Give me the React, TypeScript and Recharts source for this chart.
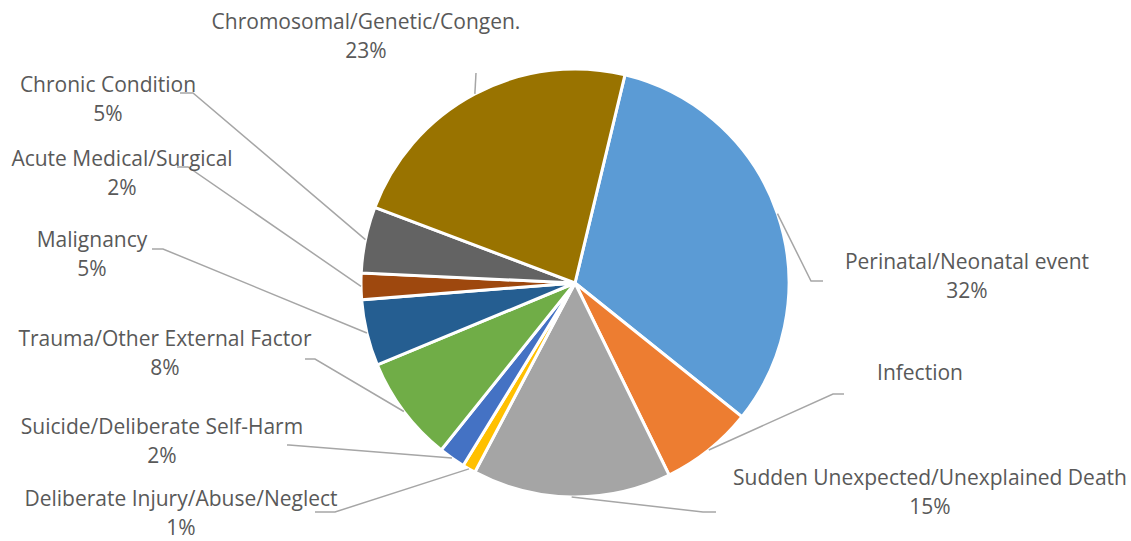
import React from "react";
import { PieChart, Pie, Cell } from "recharts";

const categories = [
  "Perinatal/Neonatal event",
  "Infection",
  "Sudden Unexpected/Unexplained Death",
  "Deliberate Injury/Abuse/Neglect",
  "Suicide/Deliberate Self-Harm",
  "Trauma/Other External Factor",
  "Malignancy",
  "Acute Medical/Surgical",
  "Chronic Condition",
  "Chromosomal/Genetic/Congen.",
];

const shares = [32, 7, 15, 1, 2, 8, 5, 2, 5, 23];

// Infection label in the source shows only the name
const showPercent = [true, false, true, true, true, true, true, true, true, true];

const colors = [
  "#5B9BD5",
  "#ED7D31",
  "#A5A5A5",
  "#FFC000",
  "#4472C4",
  "#70AD47",
  "#255E91",
  "#9E480E",
  "#636363",
  "#997300",
];

// label placement (text centre, elbow and tail end of the leader line)
const labelSpots = [
  { tx: 967, ty: 262, ex: 811, ey: 281, endX: 823 },
  { tx: 920, ty: 373, ex: 833, ey: 394, endX: 844 },
  { tx: 930, ty: 478, ex: 703, ey: 512, endX: 716 },
  { tx: 181, ty: 499, ex: 335, ey: 512, endX: 315 },
  { tx: 162, ty: 427, ex: 289, ey: 445, endX: 287 },
  { tx: 165, ty: 339, ex: 315, ey: 359, endX: 305 },
  { tx: 92, ty: 240, ex: 163, ey: 249, endX: 152 },
  { tx: 122, ty: 159, ex: 188, ey: 167, endX: 177 },
  { tx: 108, ty: 85, ex: 193, ey: 93, endX: 180 },
  { tx: 366, ty: 22, ex: 476, ey: 73, endX: 476 },
];

const data = categories.map((name, i) => ({ name, value: shares[i] }));

const RADIAN = Math.PI / 180;
const FONT = "'Open Sans', sans-serif";

function renderLabel(props: any) {
  const { cx, cy, midAngle, outerRadius, index, percent, name } = props;
  const spot = labelSpots[index];
  const sx = cx + outerRadius * Math.cos(-midAngle * RADIAN);
  const sy = cy + outerRadius * Math.sin(-midAngle * RADIAN);
  return (
    <g key={`lbl-${index}`}>
      <polyline
        points={`${sx},${sy} ${spot.ex},${spot.ey} ${spot.endX},${spot.ey}`}
        fill="none"
        stroke="#A6A6A6"
        strokeWidth={1.5}
      />
      <text
        x={spot.tx}
        y={spot.ty + 7}
        textAnchor="middle"
        fill="#595959"
        fontSize={21}
        fontFamily={FONT}
      >
        {name}
      </text>
      {showPercent[index] && (
        <text
          x={spot.tx}
          y={spot.ty + 36}
          textAnchor="middle"
          fill="#595959"
          fontSize={21}
          fontFamily={FONT}
        >
          {`${Math.round(percent * 100)}%`}
        </text>
      )}
    </g>
  );
}

export default function App() {
  return (
    <div style={{ width: 1131, height: 541, background: "#fff" }}>
      <style>{"body{margin:0}"}</style>
      <PieChart width={1131} height={541} margin={{ top: 0, right: 0, bottom: 0, left: 0 }}>
        <Pie
          data={data}
          dataKey="value"
          nameKey="name"
          cx={575}
          cy={283}
          outerRadius={214}
          startAngle={76.5}
          endAngle={-283.5}
          stroke="#fff"
          strokeWidth={3}
          label={renderLabel}
          labelLine={false}
          isAnimationActive={false}
        >
          {data.map((d, i) => (
            <Cell key={d.name} fill={colors[i]} />
          ))}
        </Pie>
      </PieChart>
    </div>
  );
}
